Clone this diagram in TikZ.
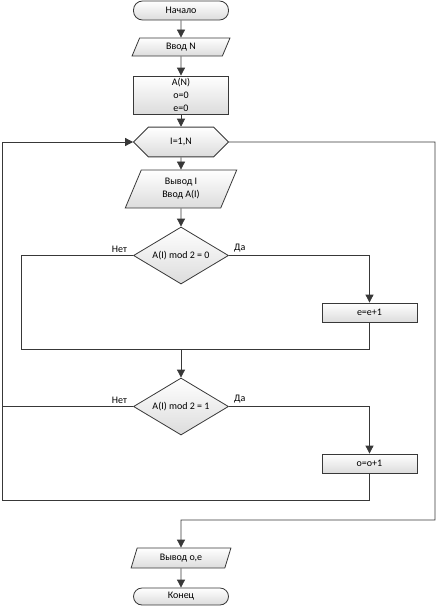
\documentclass[tikz,border=0pt]{standalone}
\usepackage{fontspec}
\setmainfont{Carlito}
\usetikzlibrary{shapes.geometric,shapes.misc,arrows.meta}
\definecolor{linec}{HTML}{383838}
\definecolor{fillc}{HTML}{DCDCDC}
\begin{document}
\begin{tikzpicture}[x=1pt,y=-1pt,
  box/.style={draw=linec, line width=0.8pt, top color=white, bottom color=fillc,
    inner sep=1pt, font=\fontsize{10}{13}\selectfont, align=center,
    minimum width=95pt, minimum height=19pt},
  terminal/.style={box, rounded corners=9pt},
  io/.style={box, trapezium, trapezium stretches=true},
  hexa/.style={box, chamfered rectangle, chamfered rectangle xsep=10pt,
    chamfered rectangle ysep=10pt, minimum height=20pt},
  decision/.style={box, diamond, shape aspect=1.67, minimum width=95pt, minimum height=57pt, inner sep=0pt},
  lbl/.style={font=\fontsize{10}{12}\selectfont, inner sep=1pt},
  conn/.style={draw=linec, line width=0.8pt},
  arr/.style={conn, -{Triangle[length=8pt,width=8pt]}}
]
\useasboundingbox (0,0) rectangle (437,608);

\node[terminal, minimum height=19pt] (start) at (181,10.5) {Начало};
\node[io, minimum width=98pt, minimum height=18pt,
  trapezium left angle=74, trapezium right angle=106] (in1) at (181,47) {Ввод N};
\node[box, minimum height=38pt] (init) at (181,95) {A(N)\\o=0\\e=0};
\node[hexa] (loop) at (181,142) {I=1,N};
\node[io, minimum width=112pt, minimum height=38pt,
  trapezium left angle=71, trapezium right angle=109] (in2) at (181,189) {Вывод I\\Ввод A(I)};
\node[decision] (d1) at (181,255.5) {A(I) mod 2 = 0};
\node[box] (e1) at (369.5,312.5) {e=e+1};
\coordinate (m1) at (181,349);
\node[decision] (d2) at (181,406.5) {A(I) mod 2 = 1};
\node[box] (o1) at (369.5,463.5) {o=o+1};
\node[io, minimum width=100pt, minimum height=20pt,
  trapezium left angle=73, trapezium right angle=107] (out) at (181,558) {Вывод o,e};
\node[terminal, minimum height=17pt, rounded corners=8.5pt] (fin) at (181,596.5) {Конец};

\coordinate (l1) at (21,349);
\coordinate (r1) at (369.5,349);
\coordinate (lo) at (2,500);
\coordinate (ro) at (369.5,500);
\coordinate (ex1) at (435,520);
\coordinate (ex2) at (181,520);

\node[lbl, anchor=south east, xshift=-5pt, yshift=2pt] (no1) at (d1.west) {Нет};
\node[lbl, anchor=south west, xshift=4pt, yshift=2pt] (yes1) at (d1.east) {Да};
\node[lbl, anchor=south east, xshift=-5pt, yshift=2pt] (no2) at (d2.west) {Нет};
\node[lbl, anchor=south west, xshift=4pt, yshift=2pt] (yes2) at (d2.east) {Да};

\draw[arr] (start) -- (in1);
\draw[arr] (in1) -- (init);
\draw[arr] (init) -- (loop);
\draw[arr] (loop) -- (in2);
\draw[arr] (in2) -- (d1);
\draw[arr] (d1.east) -| (e1.north);
\draw[conn] (d1.west) -| (l1) -- (r1) -- (e1.south);
\draw[arr] (m1) -- (d2.north);
\draw[arr] (d2.east) -| (o1.north);
\draw[conn] (d2.west) -- (d2.west -| lo);
\draw[arr] (o1.south) -- (ro) -- (lo) |- (loop.west);
\draw[arr] (loop.east) -| (ex1) -- (ex2) -- (out.north);
\draw[arr] (out) -- (fin);
\end{tikzpicture}
\end{document}
